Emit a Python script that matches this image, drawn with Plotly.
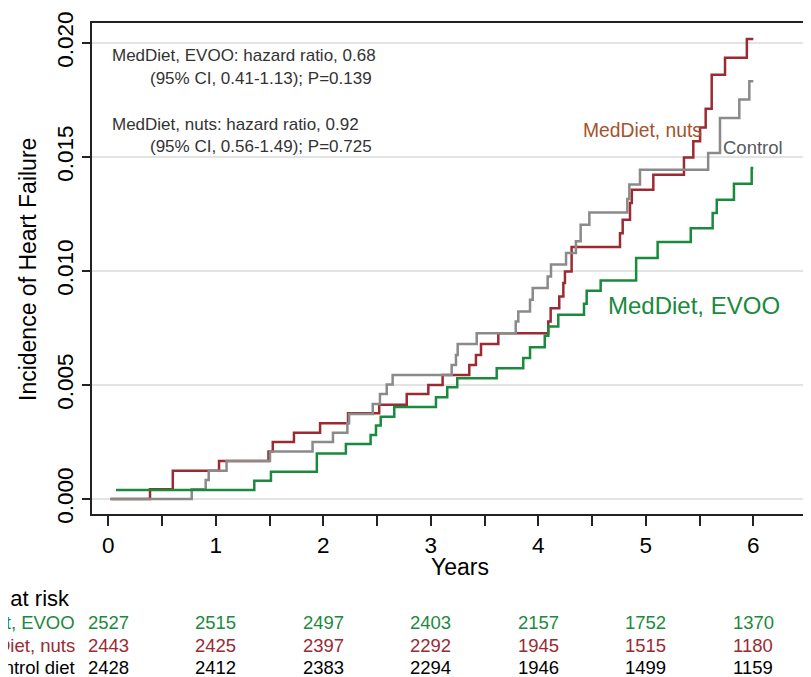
import plotly.graph_objects as go

# ---------------- data ----------------
years_nuts = [0.02, 0.388, 0.60, 1.03, 1.49, 1.53, 1.727, 1.97, 2.23, 2.52, 2.776, 2.977,
              3.11, 3.358, 3.42, 3.467, 3.628, 4.093, 4.115, 4.195, 4.233, 4.248, 4.31,
              4.76, 4.785, 4.853, 4.87, 5.07, 5.355, 5.442, 5.505, 5.557, 5.613, 5.737,
              5.94, 6.0]
inc_nuts = [0.0, 0.000425, 0.00124, 0.00167, 0.00208, 0.0025, 0.00291, 0.00332, 0.00376,
            0.00413, 0.0046, 0.0050, 0.00544, 0.00588, 0.00632, 0.0068, 0.00727, 0.00778,
            0.00837, 0.00888, 0.00947, 0.00998, 0.01105, 0.01166, 0.01225, 0.01298,
            0.01356, 0.01422, 0.01498, 0.01569, 0.01629, 0.01712, 0.01861, 0.01935,
            0.02018, 0.02018]

years_ctrl = [0.02, 0.776, 0.906, 0.934, 1.10, 1.504, 1.90, 2.09, 2.224, 2.24, 2.46, 2.527,
              2.59, 2.645, 3.194, 3.234, 3.25, 3.427, 3.79, 3.814, 3.923, 3.948, 4.087,
              4.118, 4.258, 4.35, 4.394, 4.475, 4.828, 4.847, 4.946, 5.58, 5.69, 5.87,
              5.963, 6.0]
inc_ctrl = [0.0, 0.000425, 0.000834, 0.00124, 0.00167, 0.00208, 0.0025, 0.00291, 0.00332,
            0.00373, 0.00417, 0.00461, 0.00502, 0.00544, 0.00588, 0.00632, 0.0068, 0.00727,
            0.00778, 0.00822, 0.00874, 0.00925, 0.00976, 0.01029, 0.01079, 0.0113,
            0.01203, 0.01257, 0.01316, 0.01379, 0.01444, 0.01518, 0.01671, 0.01752,
            0.01832, 0.01832]

years_evoo = [0.072, 1.358, 1.513, 1.94, 2.21, 2.44, 2.49, 2.534, 2.66, 3.048, 3.153, 3.246,
              3.613, 3.86, 3.923, 4.06, 4.093, 4.186, 4.425, 4.45, 4.58, 4.91, 5.11, 5.418,
              5.622, 5.66, 5.82, 5.985, 6.0]
inc_evoo = [0.000395, 0.000804, 0.0012, 0.0020, 0.00241, 0.00281, 0.00322, 0.00361, 0.00403,
            0.00446, 0.0049, 0.0053, 0.00574, 0.00618, 0.00666, 0.00716, 0.00757, 0.00808,
            0.00856, 0.00913, 0.00958, 0.01057, 0.01127, 0.01188, 0.01254, 0.01313,
            0.01383, 0.01452, 0.01452]

x_ticks = [0, 1, 2, 3, 4, 5, 6]
y_ticks = [0.0, 0.005, 0.010, 0.015, 0.020]
y_ticktext = ["0.000", "0.005", "0.010", "0.015", "0.020"]

risk_times = [0, 1, 2, 3, 4, 5, 6]
risk_evoo = [2527, 2515, 2497, 2403, 2157, 1752, 1370]
risk_nuts = [2443, 2425, 2397, 2292, 1945, 1515, 1180]
risk_ctrl = [2428, 2412, 2383, 2294, 1946, 1499, 1159]
risk_labels = ["MedDiet, EVOO", "MedDiet, nuts", "Control diet"]

# ---------------- styles ----------------
GREEN = "#1a8a3c"
RED = "#9b2a33"
GREY = "#8a8a8a"
FONT = "Liberation Sans, Arial, Helvetica, sans-serif"

OFF = 8  # page body margin: the figure sits 8px right/down in the window
W, H = 811 - OFF, 677 - OFF
ML, MR, MT, MB = 92 - OFF, 0, 23 - OFF, 163
PW, PH = W - ML - MR, H - MT - MB


def py(p):
    """window pixel y (from top) -> paper y"""
    return (H - MB - (p - OFF)) / PH


def px(p):
    """window pixel x (from left) -> paper x"""
    return ((p - OFF) - ML) / PW


fig = go.Figure()
fig.add_trace(go.Scatter(x=years_nuts, y=inc_nuts, mode="lines", line_shape="hv",
                         line=dict(color=RED, width=2.5), name="MedDiet, nuts"))
fig.add_trace(go.Scatter(x=years_ctrl, y=inc_ctrl, mode="lines", line_shape="hv",
                         line=dict(color=GREY, width=2.5), name="Control"))
fig.add_trace(go.Scatter(x=years_evoo, y=inc_evoo, mode="lines", line_shape="hv",
                         line=dict(color=GREEN, width=2.5), name="MedDiet, EVOO"))

ann = []
txt_col = "#333333"
for text, x, y in [
    ("MedDiet, EVOO: hazard ratio, 0.68", 110, 56),
    ("(95% CI, 0.41-1.13); P=0.139", 148, 78),
    ("MedDiet, nuts: hazard ratio, 0.92", 110, 124),
    ("(95% CI, 0.56-1.49); P=0.725", 148, 146),
]:
    ann.append(dict(text=text, xref="paper", yref="paper", x=px(x), y=py(y),
                    xanchor="left", yanchor="middle", showarrow=False,
                    font=dict(family=FONT, size=17, color=txt_col)))

ann.append(dict(text="MedDiet, nuts", xref="paper", yref="paper", x=px(704), y=py(130),
                xanchor="right", yanchor="middle", showarrow=False,
                font=dict(family=FONT, size=19.3, color="#a4522c")))
ann.append(dict(text="Control", xref="paper", yref="paper", x=px(721), y=py(147),
                xanchor="left", yanchor="middle", showarrow=False,
                font=dict(family=FONT, size=18.5, color="#555a5e")))
ann.append(dict(text="MedDiet, EVOO", xref="paper", yref="paper", x=px(606), y=py(305),
                xanchor="left", yanchor="middle", showarrow=False,
                font=dict(family=FONT, size=24, color=GREEN)))

ann.append(dict(text="Years", xref="paper", yref="paper", x=px(460), y=py(567),
                xanchor="center", yanchor="middle", showarrow=False,
                font=dict(family=FONT, size=23, color="black")))
ann.append(dict(text="Incidence of Heart Failure", xref="paper", yref="paper", x=px(28),
                y=py(270), xanchor="center", yanchor="middle", textangle=-90,
                showarrow=False, font=dict(family=FONT, size=23, color="black")))

ann.append(dict(text="Number at risk", xref="paper", yref="paper", x=px(72), y=py(598),
                xanchor="right", yanchor="middle", showarrow=False,
                font=dict(family=FONT, size=22, color="black")))
rows = [(risk_evoo, GREEN, 622), (risk_nuts, RED, 645), (risk_ctrl, "black", 667)]
for (vals, col, yy), lab in zip(rows, risk_labels):
    ann.append(dict(text=lab, xref="paper", yref="paper", x=px(77), y=py(yy),
                    xanchor="right", yanchor="middle", showarrow=False,
                    font=dict(family=FONT, size=18.5, color=col)))
    for t, v in zip(risk_times, vals):
        ann.append(dict(text=str(v), xref="x", yref="paper", x=t, y=py(yy),
                        xanchor="center", yanchor="middle", showarrow=False,
                        font=dict(family=FONT, size=18.5, color=col)))

x0px, ppy = 108.3, 107.5
y0px, ppu = 499.0, 22800.0
xr = [(92 - x0px) / ppy, (811 - x0px) / ppy]
yr = [-(514 - y0px) / ppu, (y0px - 23) / ppu]

fig.update_layout(
    width=W, height=H,
    margin=dict(l=ML, r=MR, t=MT, b=MB),
    paper_bgcolor="white", plot_bgcolor="white",
    showlegend=False,
    annotations=ann,
    xaxis=dict(range=xr, tickvals=x_ticks, ticks="outside", ticklen=10, tickwidth=1.5,
               tickcolor="#222", showline=True, linecolor="#222", linewidth=1.5,
               mirror=True, showgrid=False, zeroline=False,
               minor=dict(dtick=0.5, tick0=0, ticks="outside", ticklen=10,
                          tickwidth=1.5, tickcolor="#222", showgrid=False),
               tickfont=dict(family=FONT, size=22.5, color="black")),
    yaxis=dict(range=yr, tickvals=y_ticks, ticktext=y_ticktext, ticks="outside",
               ticklen=8, tickwidth=1.5, tickcolor="#222", tickangle=-90,
               showline=True, linecolor="#222", linewidth=1.5, mirror=False,
               showgrid=True, gridcolor="#e3e3e3", gridwidth=2, zeroline=False,
               tickfont=dict(family=FONT, size=22.5, color="black")),
)

fig.write_html("out.html")
